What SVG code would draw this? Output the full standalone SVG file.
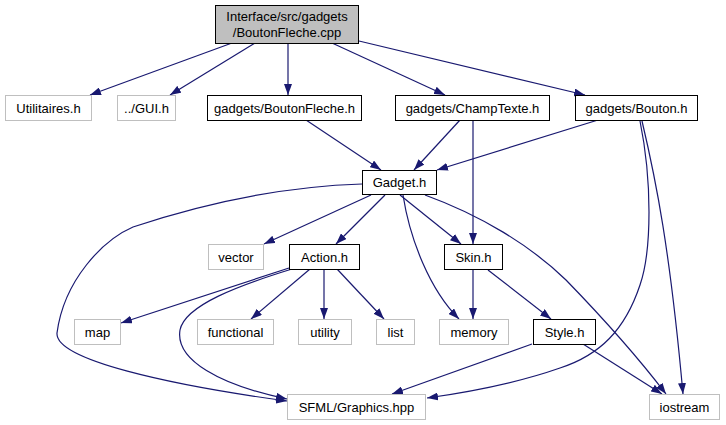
<svg xmlns="http://www.w3.org/2000/svg" width="726" height="425" viewBox="0 0 726 425">
<style>
.n rect{fill:#fff;stroke:#bfbfbf;stroke-width:1}
.n.b rect{stroke:#000}
.n.r rect{fill:#bfbfbf;stroke:#000}
.n text{font-family:"Liberation Sans",Arial,sans-serif;font-size:13px;fill:#000;text-anchor:middle}
.e path{fill:none;stroke:#191970;stroke-width:1.2;marker-end:url(#a)}
</style>
<defs>
<marker id="a" markerUnits="userSpaceOnUse" markerWidth="11" markerHeight="8" refX="11" refY="4" orient="auto">
<path d="M0,0 L11,4 L0,8 z" fill="#191970"/>
</marker>
</defs>
<rect width="726" height="425" fill="#fff"/>
<g class="e">
<path d="M232,43 L90,95"/>
<path d="M255,43 L170,95"/>
<path d="M288,43 L288,95"/>
<path d="M332,43 L445,95"/>
<path d="M359,41 L585,95"/>
<path d="M306,120 L381,170"/>
<path d="M460,120 L414,170"/>
<path d="M598,120 L437,170"/>
<path d="M473,120 L473,244"/>
<path d="M640,121 C652,180 652,250 640,285 C625,330 600,355 560,368 C520,382 470,392 427,398"/>
<path d="M642,121 C656,180 670,250 683,394"/>
<path d="M371,195 L264,244"/>
<path d="M385,195 L336,244"/>
<path d="M400,195 L461,244"/>
<path d="M403,195 C410,240 430,290 459,319"/>
<path d="M425,195 C480,215 530,245 566,280 C600,315 640,360 666,394"/>
<path d="M362,184 C300,186 220,198 133,227 C103,240 64,280 57,333 C55,360 170,385 287,401"/>
<path d="M289,268 L121,323"/>
<path d="M292,269 C240,285 185,305 180,330 C175,360 220,385 287,399"/>
<path d="M310,269 L251,319"/>
<path d="M324,269 L324,319"/>
<path d="M337,269 L384,319"/>
<path d="M473,270 L473,319"/>
<path d="M488,270 L551,319"/>
<path d="M532,344 L392,394"/>
<path d="M583,344 L662,394"/>
</g>
<g id="root" class="n r"><rect x="215.5" y="5.5" width="143" height="38"/><text x="287" y="21">Interface/src/gadgets</text><text x="287" y="37">/BoutonFleche.cpp</text></g>
<g id="utilitaires" class="n"><rect x="5.5" y="95.5" width="86" height="25"/><text x="48.5" y="112.5">Utilitaires.h</text></g>
<g id="gui" class="n"><rect x="117.5" y="95.5" width="58" height="25"/><text x="146.5" y="112.5">../GUI.h</text></g>
<g id="boutonfleche" class="n b"><rect x="207.5" y="95.5" width="154" height="25"/><text x="284.5" y="112.5">gadgets/BoutonFleche.h</text></g>
<g id="champtexte" class="n b"><rect x="395.5" y="95.5" width="154" height="25"/><text x="472.5" y="112.5">gadgets/ChampTexte.h</text></g>
<g id="bouton" class="n b"><rect x="575.5" y="95.5" width="122" height="25"/><text x="636.5" y="112.5">gadgets/Bouton.h</text></g>
<g id="gadget" class="n b"><rect x="362.5" y="170.5" width="74" height="24"/><text x="399.5" y="187">Gadget.h</text></g>
<g id="vector" class="n"><rect x="208.5" y="244.5" width="55" height="25"/><text x="236" y="261.5">vector</text></g>
<g id="action" class="n b"><rect x="289.5" y="244.5" width="70" height="25"/><text x="324.5" y="261.5">Action.h</text></g>
<g id="skin" class="n b"><rect x="444.5" y="244.5" width="58" height="25"/><text x="473.5" y="261.5">Skin.h</text></g>
<g id="map" class="n"><rect x="74.5" y="319.5" width="46" height="25"/><text x="97.5" y="336.5">map</text></g>
<g id="functional" class="n"><rect x="197.5" y="319.5" width="76" height="25"/><text x="235.5" y="336.5">functional</text></g>
<g id="utility" class="n"><rect x="298.5" y="319.5" width="53" height="25"/><text x="325" y="336.5">utility</text></g>
<g id="list" class="n"><rect x="376.5" y="319.5" width="38" height="25"/><text x="395.5" y="336.5">list</text></g>
<g id="memory" class="n"><rect x="439.5" y="319.5" width="69" height="25"/><text x="474" y="336.5">memory</text></g>
<g id="style" class="n b"><rect x="533.5" y="319.5" width="62" height="25"/><text x="564.5" y="336.5">Style.h</text></g>
<g id="sfml" class="n"><rect x="287.5" y="394.5" width="138" height="25"/><text x="356.5" y="411.5">SFML/Graphics.hpp</text></g>
<g id="iostream" class="n"><rect x="649.5" y="394.5" width="70" height="25"/><text x="684.5" y="411.5">iostream</text></g>
</svg>
